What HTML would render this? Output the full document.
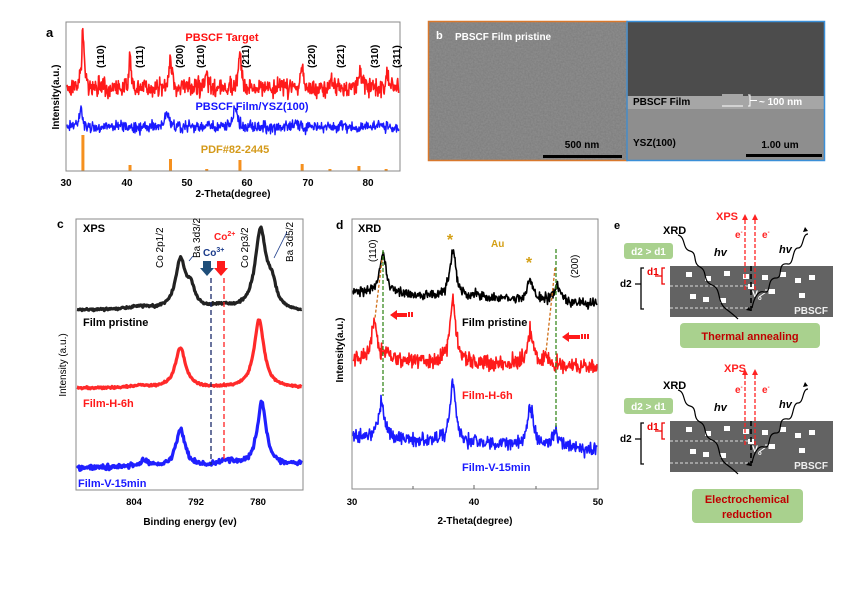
<!DOCTYPE html>
<html><head><meta charset="utf-8"><style>
html,body{margin:0;padding:0;background:#fff;}
svg{display:block;font-family:"Liberation Sans",Arial,sans-serif;}
</style></head><body>
<svg id="s" width="865" height="594" viewBox="0 0 865 594" xmlns="http://www.w3.org/2000/svg">
<!-- Panel a -->
<text x="46" y="37" font-size="13" font-weight="bold">a</text>
<g id="ga"></g>
<rect x="66" y="22" width="334" height="149" fill="none" stroke="#888" stroke-width="1"/>
<text x="222" y="41" font-size="11" font-weight="bold" fill="#ff1010" text-anchor="middle">PBSCF Target</text>
<text x="252" y="110" font-size="11" font-weight="bold" fill="#1515ff" text-anchor="middle">PBSCF Film/YSZ(100)</text>
<text x="235" y="153" font-size="11" font-weight="bold" fill="#d49a1a" text-anchor="middle">PDF#82-2445</text>
<g font-size="10" font-weight="bold" fill="#000">
<text transform="translate(104,68) rotate(-90)">(110)</text>
<text transform="translate(143,68) rotate(-90)">(111)</text>
<text transform="translate(183,68) rotate(-90)">(200)</text>
<text transform="translate(204,68) rotate(-90)">(210)</text>
<text transform="translate(249,68) rotate(-90)">(211)</text>
<text transform="translate(315,68) rotate(-90)">(220)</text>
<text transform="translate(344,68) rotate(-90)">(221)</text>
<text transform="translate(378,68) rotate(-90)">(310)</text>
<text transform="translate(400,68) rotate(-90)">(311)</text>
</g>
<text transform="translate(59,97) rotate(-90)" font-size="10" font-weight="bold" text-anchor="middle">Intensity(a.u.)</text>
<g font-size="10" font-weight="bold" text-anchor="middle">
<text x="66" y="186">30</text><text x="127" y="186">40</text><text x="187" y="186">50</text><text x="247" y="186">60</text><text x="308" y="186">70</text><text x="368" y="186">80</text>
</g>
<text x="233" y="197" font-size="10" font-weight="bold" text-anchor="middle">2-Theta(degree)</text>

<!-- Panel b -->
<defs>
<filter id="grain" x="0" y="0" width="100%" height="100%">
<feTurbulence type="fractalNoise" baseFrequency="0.6" numOctaves="2" seed="3"/>
<feColorMatrix type="matrix" values="0 0 0 0 0.48  0 0 0 0 0.48  0 0 0 0 0.48  0 0 0 -0.6 0.55"/>
</filter>
</defs>
<rect x="428" y="21" width="199" height="140" fill="#7d7d7d"/>
<rect x="428" y="21" width="199" height="140" filter="url(#grain)" opacity="0.6"/>
<rect x="627" y="21" width="198" height="75" fill="#4c4c4c"/>
<rect x="627" y="96" width="198" height="13" fill="#a6a6a6"/>
<rect x="627" y="109" width="198" height="52" fill="#8e8e8e"/>
<rect x="428.5" y="21.5" width="198.5" height="139" fill="none" stroke="#d9782c" stroke-width="1.5"/>
<rect x="627" y="21.5" width="197.5" height="139" fill="none" stroke="#3a8fd8" stroke-width="1.5"/>
<text x="436" y="39" font-size="11" font-weight="bold" fill="#fff">b</text>
<text x="455" y="40" font-size="10" font-weight="bold" fill="#fff">PBSCF Film pristine</text>
<text x="582" y="148" font-size="10" font-weight="bold" text-anchor="middle">500 nm</text>
<rect x="543" y="155" width="79" height="3" fill="#000"/>
<text x="633" y="105" font-size="10" font-weight="bold">PBSCF Film</text>
<line x1="722" y1="95" x2="743" y2="95" stroke="#fff"/><line x1="722" y1="106" x2="743" y2="106" stroke="#fff"/>
<path d="M748 95 h2 v11 h-2 M750 100.5 h7" stroke="#fff" fill="none"/>
<text x="759" y="105" font-size="10" font-weight="bold" fill="#fff">~ 100 nm</text>
<text x="633" y="146" font-size="10" font-weight="bold">YSZ(100)</text>
<text x="780" y="148" font-size="10" font-weight="bold" text-anchor="middle">1.00 um</text>
<rect x="746" y="154" width="76" height="3" fill="#000"/>

<!-- Panel c -->
<text x="57" y="228" font-size="12" font-weight="bold">c</text>
<g id="gc"></g>
<rect x="76" y="219" width="227" height="271" fill="none" stroke="#888"/>
<text x="83" y="232" font-size="11" font-weight="bold">XPS</text>
<g font-size="10" fill="#000">
<text transform="translate(163,268) rotate(-90)">Co 2p1/2</text>
<text transform="translate(200,258) rotate(-90)">Ba 3d3/2</text>
<text transform="translate(248,268) rotate(-90)">Co 2p3/2</text>
<text transform="translate(293,262) rotate(-90)">Ba  3d5/2</text>
</g>
<line x1="193" y1="256" x2="189" y2="261" stroke="#1a3a8a" stroke-width="0.8"/>
<line x1="287" y1="232" x2="274" y2="258" stroke="#1a3a8a" stroke-width="0.8"/>
<text x="203" y="256" font-size="10" font-weight="bold" fill="#1a3a8a">Co<tspan font-size="7" dy="-4">3+</tspan></text>
<text x="214" y="240" font-size="10" font-weight="bold" fill="#ff2020">Co<tspan font-size="7" dy="-4">2+</tspan></text>
<path d="M203 261 h8 v7 h3 l-7 8 l-7 -8 h3z" fill="#1f4e79"/>
<path d="M217 261 h8 v7 h3 l-7 8 l-7 -8 h3z" fill="#ff1a1a"/>
<line x1="211" y1="278" x2="211" y2="465" stroke="#1a2a6a" stroke-width="1.3" stroke-dasharray="5,3"/>
<line x1="224" y1="278" x2="224" y2="462" stroke="#ff2020" stroke-width="1.3" stroke-dasharray="5,3"/>
<text x="83" y="326" font-size="11" font-weight="bold">Film pristine</text>
<text x="83" y="407" font-size="11" font-weight="bold" fill="#ff1a1a">Film-H-6h</text>
<text x="78" y="487" font-size="11" font-weight="bold" fill="#1a1aff">Film-V-15min</text>
<text transform="translate(66,365) rotate(-90)" font-size="10" text-anchor="middle">Intensity (a.u.)</text>
<g font-size="9.5" font-weight="bold" text-anchor="middle">
<text x="134" y="505">804</text><text x="196" y="505">792</text><text x="258" y="505">780</text>
</g>
<text x="190" y="525" font-size="10" font-weight="bold" text-anchor="middle">Binding energy (ev)</text>

<!-- Panel d -->
<text x="336" y="229" font-size="12" font-weight="bold">d</text>
<g id="gd"></g>
<rect x="352" y="219" width="246" height="270" fill="none" stroke="#888"/>
<g stroke="#666"><line x1="413" y1="489" x2="413" y2="486"/><line x1="474" y1="489" x2="474" y2="485"/><line x1="536" y1="489" x2="536" y2="486"/></g>
<text x="358" y="232" font-size="11" font-weight="bold">XRD</text>
<text transform="translate(376,262) rotate(-90)" font-size="10">(110)</text>
<text transform="translate(578,278) rotate(-90)" font-size="10">(200)</text>
<text x="450" y="245" font-size="16" font-weight="bold" fill="#d4a017" text-anchor="middle">*</text>
<text x="529" y="268" font-size="16" font-weight="bold" fill="#d4a017" text-anchor="middle">*</text>
<text x="491" y="247" font-size="10" font-weight="bold" fill="#d4a017">Au</text>
<line x1="383" y1="250" x2="383" y2="396" stroke="#3a8a20" stroke-width="1.3" stroke-dasharray="4,2"/>
<line x1="556" y1="249" x2="556" y2="430" stroke="#3a8a20" stroke-width="1.3" stroke-dasharray="4,2"/>
<line x1="382" y1="260" x2="375" y2="318" stroke="#d0701a" stroke-width="1.3" stroke-dasharray="3,2"/>
<line x1="555" y1="268" x2="546" y2="352" stroke="#d0701a" stroke-width="1.3" stroke-dasharray="3,2"/>
<g fill="#ff1a1a">
<path d="M390 315 l7 -5 v3 h10 v4 h-10 v3z"/><rect x="408" y="312" width="2" height="5"/><rect x="411" y="312" width="2" height="5"/>
<path d="M562 337 l7 -5 v3 h11 v4 h-11 v3z"/><rect x="581" y="334" width="2" height="5"/><rect x="584" y="334" width="2" height="5"/><rect x="587" y="334" width="2" height="5"/>
</g>
<text x="462" y="326" font-size="11" font-weight="bold">Film pristine</text>
<text x="462" y="399" font-size="11" font-weight="bold" fill="#ff1a1a">Film-H-6h</text>
<text x="462" y="471" font-size="11" font-weight="bold" fill="#1a1aff">Film-V-15min</text>
<text transform="translate(343,350) rotate(-90)" font-size="10" font-weight="bold" text-anchor="middle">Intensity(a.u.)</text>
<g font-size="9.5" font-weight="bold" text-anchor="middle">
<text x="352" y="505">30</text><text x="474" y="505">40</text><text x="598" y="505">50</text>
</g>
<text x="475" y="524" font-size="10" font-weight="bold" text-anchor="middle">2-Theta(degree)</text>

<!-- Panel e -->
<text x="614" y="229" font-size="11" font-weight="bold">e</text>
<g id="ge1"></g>
<g id="ge2" transform="translate(0,155)"></g>
<rect x="680" y="323" width="140" height="25" rx="4" fill="#a9d18e"/>
<text x="750" y="340" font-size="11" font-weight="bold" fill="#c00000" text-anchor="middle">Thermal  annealing</text>
<rect x="692" y="489" width="111" height="34" rx="4" fill="#a9d18e"/>
<text x="747" y="503" font-size="11" font-weight="bold" fill="#c00000" text-anchor="middle">Electrochemical</text>
<text x="747" y="518" font-size="11" font-weight="bold" fill="#c00000" text-anchor="middle">reduction</text>
<text x="727" y="220" font-size="11" font-weight="bold" fill="#f22" text-anchor="middle">XPS</text>
<text x="735" y="372" font-size="11" font-weight="bold" fill="#f22" text-anchor="middle">XPS</text>
</svg>
<script>
var seed=7;function rnd(){seed=(seed*16807)%2147483647;return seed/2147483647;}
function gn(){return (rnd()+rnd()+rnd()-1.5);}
var NS="http://www.w3.org/2000/svg";
function line(g,d,col,w){var p=document.createElementNS(NS,"path");p.setAttribute("d",d);p.setAttribute("stroke",col);p.setAttribute("stroke-width",w);p.setAttribute("fill","none");p.setAttribute("stroke-linejoin","round");g.appendChild(p);}
function spec(g,x0,x1,base,peaks,noise,col,w,slope,step){var d="";step=step||0.7;for(var x=x0;x<=x1;x+=step){var y=base+(slope?slope(x):0);for(var i=0;i<peaks.length;i++){var p=peaks[i];var t=(x-p[0])/p[2];y-=p[1]/(1+t*t);}y+=gn()*noise;d+=(d?"L":"M")+x.toFixed(1)+" "+y.toFixed(1);}line(g,d,col,w);}
// panel a
var ga=document.getElementById("ga");
function xa(t){return 66+(t-30)*6.04;}
spec(ga,67,399,88,[[xa(32.8),54,1.6],[xa(40.6),28,1.3],[xa(47.3),30,1.5],[xa(53.3),18,1.1],[xa(58.8),36,1.6],[xa(69.1),22,1.5],[xa(74),10,1.3],[xa(78.7),21,1.5],[xa(83.2),12,1.5]],9,"#ff1a1a",1.6,null,0.45);
spec(ga,67,399,127,[[xa(32.5),20,1.8],[xa(46.7),14,2.2],[xa(58),17,2.4],[xa(68),5,2]],6,"#1a1aff",1.4,null,0.5);
var bars=[[32.8,36],[40.6,6],[47.3,12],[53.3,2],[58.8,11],[69.1,7],[73.7,2],[78.5,5],[83,2]];
bars.forEach(function(b){var r=document.createElementNS(NS,"rect");r.setAttribute("x",xa(b[0])-1.5);r.setAttribute("y",171-b[1]);r.setAttribute("width",3);r.setAttribute("height",b[1]);r.setAttribute("fill","#f5901e");ga.appendChild(r);});
// panel c
var gc=document.getElementById("gc");
function xc(e){return 258+(780-e)*5.17;}
spec(gc,77,302,310,[[xc(779.5),78,6.5],[xc(777.3),22,5],[xc(795),48,6],[xc(793),18,5],[xc(803),3,12],[xc(787),3,10]],1.2,"#222",3.2,function(x){return x>270?2:0;});
spec(gc,77,302,388,[[xc(779.8),68,6],[xc(795),40,6],[xc(803),2,10]],1,"#ff2a2a",3.2);
spec(gc,77,302,468,[[xc(779.3),64,5.5],[xc(795),38,5.5],[xc(802),6,8],[xc(786),6,10],[xc(770),4,30]],2.5,"#2020ff",3.2);
// panel d
var gd=document.getElementById("gd");
function xd(t){return 352+(t-30)*12.3;}
spec(gd,353,597,292,[[xd(32.5),40,3.8],[xd(38.2),46,3.6],[xd(44.5),20,3.6],[xd(46.7),16,4],[xd(40.1),6,2]],5,"#000",1.6,function(x){return (x-353)*0.05;},0.5);
spec(gd,353,597,360,[[xd(31.8),38,3.6],[xd(38.2),62,3.6],[xd(44.5),33,3.8],[xd(45.9),10,3],[xd(33),6,6]],8,"#ff1a1a",1.6,function(x){return (x-353)*0.03;},0.5);
spec(gd,353,597,438,[[xd(32.4),38,3.8],[xd(38.2),60,3.6],[xd(44.5),38,3.8],[xd(46.6),16,3.5]],7,"#1a1aff",1.6,function(x){return (x-353)*0.05;},0.5);
// panel e
function buildE(g,top){var html='';
html+='<rect x="624" y="'+(top-23)+'" width="49" height="16" rx="3" fill="#a9d18e"/>';
html+='<text x="648.5" y="'+(top-11)+'" font-size="10" font-weight="bold" fill="#fff" text-anchor="middle">d2 &gt; d1</text>';
html+='<rect x="670" y="'+top+'" width="163" height="51" fill="#636363"/>';
html+='<line x1="670" y1="'+(top+20)+'" x2="750" y2="'+(top+20)+'" stroke="#ddd" stroke-dasharray="3,2" stroke-width="0.9"/>';
html+='<line x1="670" y1="'+(top+42)+'" x2="750" y2="'+(top+42)+'" stroke="#ddd" stroke-dasharray="3,2" stroke-width="0.9"/>';
var sq=[[686,6],[705,10],[724,5],[743,8],[762,9],[780,6],[809,9],[795,12],[690,28],[703,31],[720,32],[769,23],[799,27],[748,18]];
sq.forEach(function(s){html+='<rect x="'+s[0]+'" y="'+(top+s[1])+'" width="6" height="5" fill="#fff"/>';});
html+='<line x1="751" y1="'+top+'" x2="751" y2="'+(top+48)+'" stroke="#000" stroke-width="1.6" stroke-dasharray="5,3"/>';
html+='<path d="M665 '+(top+2)+' h-3 v16 h3 M662 '+(top+10)+' h-7" stroke="#e00" stroke-width="1.3" fill="none"/>';
html+='<text x="647" y="'+(top+9)+'" font-size="10" font-weight="bold" fill="#e00">d1</text>';
html+='<path d="M644 '+(top+2)+' h-3 v41 h3 M641 '+(top+18)+' h-6" stroke="#000" stroke-width="1.3" fill="none"/>';
html+='<text x="620" y="'+(top+21)+'" font-size="10" font-weight="bold">d2</text>';
html+='<text x="828" y="'+(top+48)+'" font-size="10" font-weight="bold" fill="#eee" text-anchor="end">PBSCF</text>';
html+='<text x="752" y="'+(top+31)+'" font-size="9" font-weight="bold" fill="#fff">V<tspan font-size="6" dy="3">o</tspan></text>';
html+='<path d="M759 '+(top+31)+' l10 -7 M765 '+(top+24)+' h4 v4" stroke="#fff" stroke-width="1" fill="none"/>';
html+='<path d="M678 '+(top-31)+' c8 2 4 14 12 16 c8 2 2 12 10 16 c8 4 2 14 12 18 c10 4 4 16 14 24 c8 6 10 8 12 10" stroke="#000" stroke-width="1.2" fill="none"/>';
html+='<path d="M746 '+(top+44)+' l5 1 l-2 -4z" fill="#000"/>';
html+='<path d="M752 '+(top+42)+' c2 -10 6 -18 12 -16 c8 2 2 -14 12 -14 c8 0 0 -16 12 -14 c6 1 4 -16 10 -16 c6 0 4 -14 10 -14" stroke="#000" stroke-width="1.2" fill="none"/>';
html+='<path d="M805 '+(top-39)+' l3 4 l-5 1z" fill="#000"/>';
html+='<text x="663" y="'+(top-32)+'" font-size="11" font-weight="bold">XRD</text>';
html+='<text x="714" y="'+(top-10)+'" font-size="11" font-weight="bold" font-style="italic">hv</text>';
html+='<text x="779" y="'+(top-13)+'" font-size="11" font-weight="bold" font-style="italic">hv</text>';
html+='<line x1="745" y1="'+(top+24)+'" x2="745" y2="'+(top-49)+'" stroke="#f22" stroke-width="1.3" stroke-dasharray="4,2"/>';
html+='<line x1="755" y1="'+(top+24)+'" x2="755" y2="'+(top-49)+'" stroke="#f22" stroke-width="1.3" stroke-dasharray="4,2"/>';
html+='<path d="M742 '+(top-46)+' l3 -6 l3 6z M752 '+(top-46)+' l3 -6 l3 6z" fill="#f22"/>';
html+='<text x="735" y="'+(top-28)+'" font-size="10" font-weight="bold" fill="#f22">e<tspan font-size="6" dy="-4">-</tspan></text>';
html+='<text x="762" y="'+(top-28)+'" font-size="10" font-weight="bold" fill="#f22">e<tspan font-size="6" dy="-4">-</tspan></text>';
g.innerHTML=html;}
buildE(document.getElementById("ge1"),266);
buildE(document.getElementById("ge2"),266);
</script>
</body></html>
